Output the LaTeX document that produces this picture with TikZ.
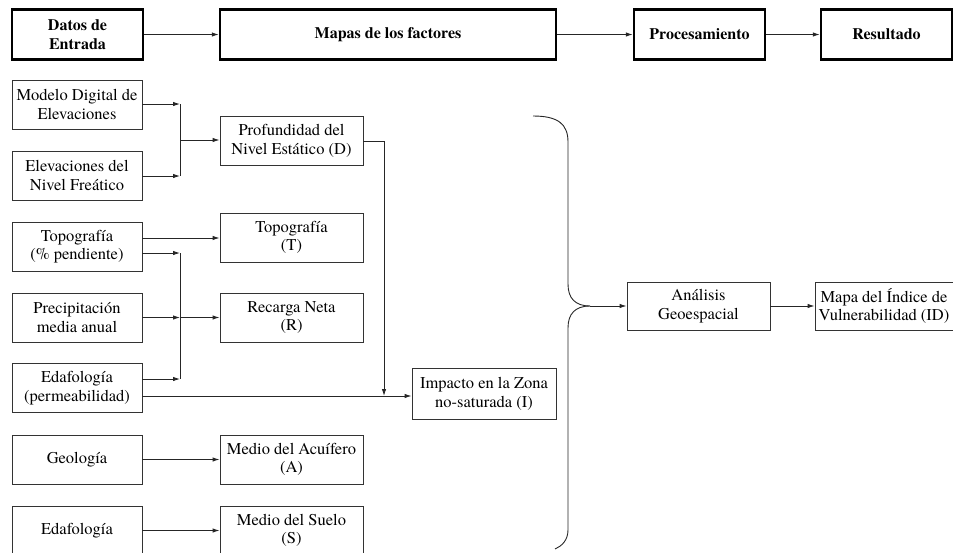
\documentclass[tikz,border=0pt]{standalone}
\usepackage{fontspec}
\setmainfont{texgyretermes}[Extension=.otf, UprightFont=*-regular, BoldFont=*-bold, ItalicFont=*-italic, BoldItalicFont=*-bolditalic]
\usetikzlibrary{arrows.meta}
\begin{document}
\begin{tikzpicture}[x=1pt,y=-1pt,
  every node/.style={font=\fontsize{16.5}{18.5}\selectfont, align=center, inner sep=0pt},
  box/.style={draw=black!80, line width=0.9pt, minimum height=49pt},
  inbox/.style={box, minimum width=130pt},
  fbox/.style={box, minimum width=143pt},
  head/.style={draw=black, line width=2.5pt, minimum height=50pt, minimum width=131pt, font=\fontsize{16}{18.5}\selectfont\bfseries},
  conn/.style={draw=black!85, line width=0.9pt},
  arr/.style={conn, -{Latex[length=7pt,width=4.5pt]}}
]
\useasboundingbox (0,0) rectangle (953,552);

% header
\node[head] (datos) at (77.5,34.5) {Datos de\\Entrada};
\node[head, minimum width=336pt] (mapas) at (388,34.5) {Mapas de los factores};
\node[head] (proc) at (699.5,34.5) {Procesamiento};
\node[head] (res) at (886.5,34.5) {Resultado};
\draw[arr] (datos) -- (mapas);
\draw[arr] (mapas) -- (proc);
\draw[arr] (proc) -- (res);

% inputs
\node[inbox] (mde) at (77,104.5) {Modelo Digital de\\Elevaciones};
\node[inbox] (enf) at (77,175.5) {Elevaciones del\\Nivel Freático};
\node[inbox] (topo) at (77,246.5) {Topografía\\(\% pendiente)};
\node[inbox] (prec) at (77,317.5) {Precipitación\\media anual};
\node[inbox] (edp) at (77,388) {Edafología\\(permeabilidad)};
\node[inbox] (geo) at (77,459.5) {Geología};
\node[inbox] (eda) at (77,530.5) {Edafología};

% factors
\node[fbox] (D) at (291.5,141) {Profundidad del\\Nivel Estático (D)};
\node[fbox] (T) at (291.5,237.5) {Topografía\\(T)};
\node[fbox] (R) at (291.5,317.5) {Recarga Neta\\(R)};
\node[fbox, minimum width=144pt, minimum height=51pt] (I) at (484,394) {Impacto en la Zona\\no-saturada (I)};
\node[fbox] (A) at (291.5,459.5) {Medio del Acuífero\\(A)};
\node[fbox] (S) at (291.5,530.5) {Medio del Suelo\\(S)};

% processing
\node[fbox, minimum height=48pt] (an) at (698.5,306) {Análisis\\Geoespacial};
\node[fbox, minimum width=138pt, minimum height=48pt] (id) at (884,306) {Mapa del Índice de\\Vulnerabilidad (ID)};

% junction coordinates
\coordinate (j1) at (180,104);
\coordinate (j2) at (180,176);
\coordinate (j3) at (180,140);
\coordinate (j4) at (180,253);
\coordinate (j5) at (180,317.5);
\coordinate (j6) at (180,379);
\coordinate (dd) at (384,141);
\coordinate (dv) at (384,396);

% D
\draw[arr] (mde.east |- j1) -- (j1);
\draw[arr] (enf.east |- j2) -- (j2);
\draw[conn] (j1) -- (j2);
\draw[arr] (j3) -- (D.west |- j3);

% T, R, I
\draw[arr] (topo.east |- 0,238) -- (T.west |- 0,238);
\draw[arr] (topo.east |- j4) -- (j4);
\draw[arr] (prec.east |- j5) -- (j5);
\draw[arr] (j5) -- (R.west |- j5);
\draw[arr] (edp.east |- j6) -- (j6);
\draw[conn] (j4) -- (j6);
\draw[arr] (edp.east |- dv) -- (I.west |- dv);
\draw[conn] (D.east |- dd) -- (dd);
\draw[arr] (dd) -- (dv);

% A, S
\draw[arr] (geo) -- (A);
\draw[arr] (eda) -- (S);

% bracket
\coordinate (bt) at (533,116);
\coordinate (bm) at (590,306);
\coordinate (bb) at (555,549);
\draw[conn] (bt) .. controls (558,116) and (568,124) .. (568,142)
  -- (568,284) .. controls (568,298) and (575,306) .. (bm);
\draw[conn] (bm) .. controls (575,306) and (568,314) .. (568,328)
  -- (568,530) .. controls (568,540) and (562,546) .. (bb);
\draw[arr] (bm) -- (an);
\draw[arr] (an) -- (id);
\end{tikzpicture}
\end{document}
